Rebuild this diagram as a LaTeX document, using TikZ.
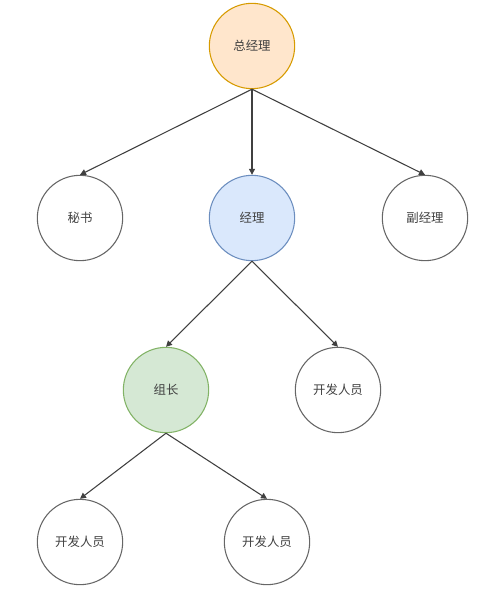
\documentclass[tikz,border=0pt]{standalone}
\usepackage{fontspec}
\newfontfamily\cjk{Noto Sans CJK SC}
\usetikzlibrary{arrows.meta}
\definecolor{orgfill}{HTML}{FFE6CC}
\definecolor{orgline}{HTML}{D79B00}
\definecolor{bluefill}{HTML}{DAE8FC}
\definecolor{blueline}{HTML}{6C8EBF}
\definecolor{greenfill}{HTML}{D5E8D4}
\definecolor{greenline}{HTML}{82B366}
\begin{document}
\begin{tikzpicture}[x=0.75pt, y=-0.75pt,
	main/.style = {draw=black!60, circle, line width=0.8pt, minimum size=64pt, inner sep=0pt, font=\cjk\fontsize{9.3pt}{11pt}\selectfont, text=black!75},
	edge/.style = {draw=black!75, line width=0.8pt, -{Triangle[length=4.5pt,width=4.5pt]}}]
		\useasboundingbox (0,0) rectangle (500,593);
		%Henkilot
		\node[main, fill=orgfill, draw=orgline] (gm) at (252,46) {总经理};
		\node[main] (sec) at (80,218) {秘书};
		\node[main, fill=bluefill, draw=blueline] (mgr) at (252,218) {经理};
		\node[main] (dep) at (425,218) {副经理};
		\node[main, fill=greenfill, draw=greenline] (lead) at (166,390) {组长};
		\node[main] (dev1) at (338,390) {开发人员};
		\node[main] (dev2) at (80,542) {开发人员};
		\node[main] (dev3) at (267,542) {开发人员};
		% Nuolet
		\draw[edge] (gm.south) -- (sec.north);		% gm-sec
		\draw[edge] (gm.south) -- (mgr.north);		% gm-mgr
		\draw[edge] (gm.south) -- (dep.north);		% gm-dep
		\draw[edge] (mgr.south) -- (lead.north);	% mgr-lead
		\draw[edge] (mgr.south) -- (dev1.north);	% mgr-dev1
		\draw[edge] (lead.south) -- (dev2.north);	% lead-dev2
		\draw[edge] (lead.south) -- (dev3.north);	% lead-dev3
\end{tikzpicture}
\end{document}
